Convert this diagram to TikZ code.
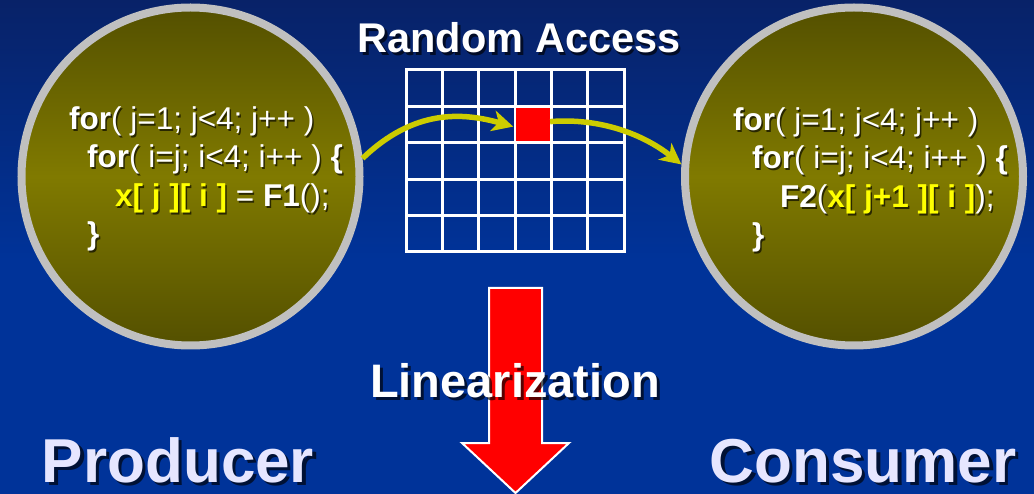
\documentclass[tikz,border=0pt]{standalone}
\usepackage{fontspec}
\setmainfont{Liberation Sans}
\usetikzlibrary{arrows.meta}

\definecolor{bgtop}{RGB}{8,34,104}
\definecolor{bgbot}{RGB}{0,51,153}
\definecolor{olivedark}{RGB}{84,80,0}
\definecolor{olivemid}{RGB}{128,122,0}
\definecolor{rim}{RGB}{192,192,192}
\definecolor{arrowyellow}{RGB}{204,204,0}
\definecolor{codeyellow}{RGB}{255,255,0}
\definecolor{labelwhite}{RGB}{230,230,255}
\colorlet{hlc}{codeyellow}

% highlighted array access in the loop bodies
\newcommand\hl[1]{\textcolor{hlc}{\textbf{#1}}}

% text with a dark drop shadow: name, x, y, anchor, style, offset, content
\newcommand\shadowtext[7]{%
  \node[#5, anchor=#4, text=black, text opacity=0.65, xshift=#6, yshift=-#6] (#1-sh) at (#2,#3) {\colorlet{hlc}{black}#7};
  \node[#5, anchor=#4] (#1) at (#2,#3) {#7};
}

\tikzset{
  loopcircle/.style={circle, draw=rim, line width=8pt, minimum size=338pt, inner sep=0pt,
    top color=olivedark, bottom color=olivedark, middle color=olivemid},
  code/.style={inner sep=0pt, text=white, font=\fontsize{31.5}{38}\selectfont},
  title/.style={inner sep=0pt, text=white, font=\fontsize{41.5}{50}\selectfont\bfseries},
  midlabel/.style={inner sep=0pt, text=white, font=\fontsize{47}{56}\selectfont\bfseries},
  role/.style={inner sep=0pt, text=labelwhite, font=\fontsize{62}{74}\selectfont\bfseries},
  gridline/.style={white, line width=3pt, line cap=rect},
  yarrow/.style={arrowyellow, line width=5.5pt, -{Stealth[length=21pt, width=21pt, inset=6pt]}},
}

\begin{document}
\begin{tikzpicture}[x=1pt, y=-1pt]
  \useasboundingbox (0,0) rectangle (1034,494);

  % background
  \fill[bgbot] (0,0) rectangle (1034,494);
  \shade[top color=bgtop, bottom color=bgbot] (0,0) rectangle (1034,260);

  % producer and consumer loops
  \node[loopcircle] (prod) at (190.5,176.5) {};
  \node[loopcircle] (cons) at (854,176.5) {};

  % array grid
  \foreach \i in {0,...,6}
    \draw[gridline] ({406+\i*218/6},70) -- ({406+\i*218/6},252);
  \foreach \j in {0,...,5}
    \draw[gridline] (406,{70+\j*36.4}) -- (624,{70+\j*36.4});
  \node[fill=red, minimum width=33.5pt, minimum height=33.5pt, inner sep=0pt]
    (cell) at ({406+3.5*218/6},{70+1.5*36.4}) {};

  % write and read accesses
  \draw[yarrow] (prod.6) .. controls +(52,-50) and +(-50,-14) .. ([xshift=-3pt, yshift=-2pt]cell.west);
  \draw[yarrow] ([yshift=3pt]cell.east) .. controls +(50,-4) and +(-38,-30) .. (cons.176);

  % linearization arrow
  \draw[white, line width=2pt, fill=red, line join=miter]
    (489,288) -- (542,288) -- (542,443) -- (569,443) -- (515.5,493) -- (462,443) -- (489,443) -- cycle;

  % headings
  \shadowtext{title}{519}{53}{base}{title}{2.5pt}{Random Access}
  \shadowtext{lin}{515}{397}{base}{midlabel}{3pt}{Linearization}
  \shadowtext{prodlabel}{178}{482}{base}{role}{3.5pt}{Producer}
  \shadowtext{conslabel}{863}{482}{base}{role}{3.5pt}{Consumer}

  % producer code
  \shadowtext{p1}{69}{130}{base west}{code}{1.5pt}{\textbf{for}( j=1; j<4; j++ )}
  \shadowtext{p2}{87}{168}{base west}{code}{1.5pt}{\textbf{for}( i=j; i<4; i++ ) \textbf{\{}}
  \shadowtext{p3}{115}{207}{base west}{code}{1.5pt}{\hl{x[ j ][ i ]} = \textbf{F1}();}
  \shadowtext{p4}{87}{245}{base west}{code}{1.5pt}{\textbf{\}}}

  % consumer code
  \shadowtext{c1}{733}{131}{base west}{code}{1.5pt}{\textbf{for}( j=1; j<4; j++ )}
  \shadowtext{c2}{752}{169}{base west}{code}{1.5pt}{\textbf{for}( i=j; i<4; i++ ) \textbf{\{}}
  \shadowtext{c3}{780}{208}{base west}{code}{1.5pt}{\textbf{F2}(\hl{x[ j+1 ][ i ]});}
  \shadowtext{c4}{752}{246}{base west}{code}{1.5pt}{\textbf{\}}}
\end{tikzpicture}
\end{document}
